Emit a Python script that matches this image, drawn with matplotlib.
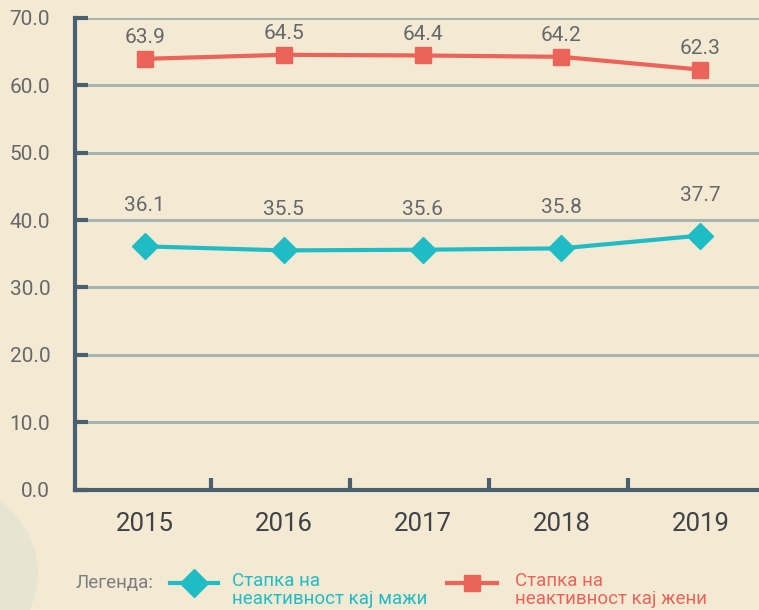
import matplotlib.pyplot as plt
from matplotlib.patches import Circle
from matplotlib.lines import Line2D

plt.rcParams['font.family'] = ['Roboto', 'DejaVu Sans']

years = ['2015', '2016', '2017', '2018', '2019']
men = [36.1, 35.5, 35.6, 35.8, 37.7]
women = [63.9, 64.5, 64.4, 64.2, 62.3]
yticks = [0, 10, 20, 30, 40, 50, 60, 70]

bg = '#f4ead3'
teal = '#20bcc6'
red = '#ec635a'
axis_col = '#4a5f70'
grid_col = '#9fb1b0'
text_col = '#65676b'

fig = plt.figure(figsize=(7.59, 6.10), dpi=100)
fig.patch.set_facecolor(bg)
fig.patches.append(Circle((-0.12, 0.06), 0.17, transform=fig.transFigure,
                          facecolor='#e8e4d2', edgecolor='none', zorder=0))

ax = fig.add_axes([0.099, 0.197, 0.93, 0.774])
ax.set_facecolor('none')
x = list(range(len(years)))

for y in yticks[1:]:
    ax.axhline(y, color=grid_col, lw=2, zorder=1)

ax.plot(x, men, color=teal, lw=3, marker='D', ms=13, zorder=3)
ax.plot(x, women, color=red, lw=3, marker='s', ms=11.5, zorder=3)

for i in x:
    ax.text(i, men[i] + 6.0, f'{men[i]:.1f}', ha='center', va='center',
            fontsize=15, color=text_col)
    ax.text(i, women[i] + 3.1, f'{women[i]:.1f}', ha='center', va='center',
            fontsize=15, color=text_col)

ax.set_xlim(-0.5, 4.58)
ax.set_ylim(0, 70)
ax.set_yticks(yticks)
ax.set_yticklabels([f'{v:.1f}' for v in yticks])
ax.set_xticks(x)
ax.set_xticklabels(years)
ax.set_xticks([i + 0.48 for i in range(4)], minor=True)

for s in ['top', 'right']:
    ax.spines[s].set_visible(False)
for s in ['left', 'bottom']:
    ax.spines[s].set_color(axis_col)
    ax.spines[s].set_linewidth(3)

ax.tick_params(axis='y', direction='in', length=9, width=3, color=axis_col,
               labelsize=15, labelcolor=text_col, pad=18)
ax.tick_params(axis='x', which='major', length=0, labelsize=18.5,
               labelcolor='#3f4247', pad=16)
ax.tick_params(axis='x', which='minor', direction='in', length=9, width=3,
               color=axis_col)

fig.text(0.099, 0.044, 'Легенда:', fontsize=13.5, color='#7b7d80', va='center')
fig.add_artist(Line2D([0.224, 0.287], [0.044, 0.044], color=teal, lw=3,
                      transform=fig.transFigure))
fig.add_artist(Line2D([0.2555], [0.044], color=teal, marker='D', ms=14,
                      transform=fig.transFigure))
fig.text(0.306, 0.033, 'Стапка на\nнеактивност кај мажи', fontsize=13.5,
         color=teal, va='center', linespacing=1.05)
fig.add_artist(Line2D([0.589, 0.655], [0.045, 0.045], color=red, lw=3,
                      transform=fig.transFigure))
fig.add_artist(Line2D([0.622], [0.045], color=red, marker='s', ms=11.5,
                      transform=fig.transFigure))
fig.text(0.679, 0.033, 'Стапка на\nнеактивност кај жени', fontsize=13.5,
         color=red, va='center', linespacing=1.05)

fig.savefig('out.png', dpi=100, facecolor=bg)
